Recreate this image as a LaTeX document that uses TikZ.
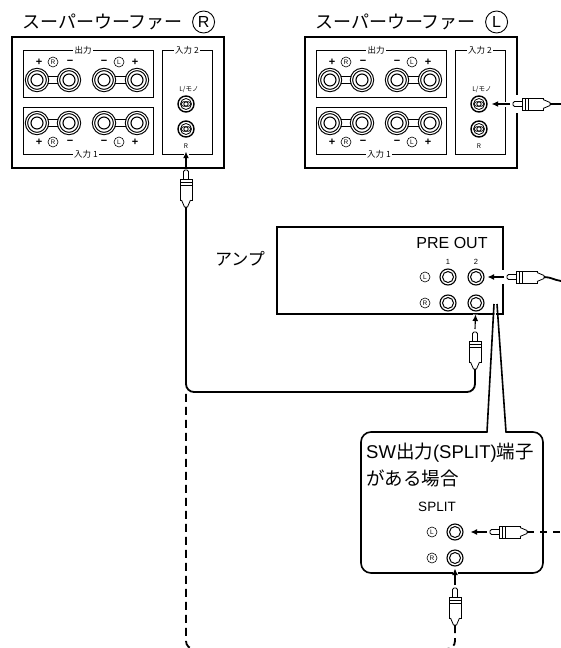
\documentclass[tikz,border=0pt]{standalone}
\usepackage{fontspec}
\setmainfont{Liberation Sans}
\newfontfamily\jp{Noto Sans CJK JP}
\usepackage{tikz}
\usetikzlibrary{positioning}
\usetikzlibrary{arrows.meta}
\usetikzlibrary{calc}
\tikzstyle{line} = [draw, -{Latex[length=6.5pt, width=6pt]}]

% RCA plug: name, tip position, angle
\newcommand\rcaplug[3]{%
  \begin{scope}[shift={#2}, rotate=#3]
    \draw[fill=white, line width=0.8pt, rounded corners=1.5pt] (9,-2.5) -- (0,-2.5) -- (0,2.5) -- (9,2.5);
    \draw[fill=white, line width=0.8pt] (9,-6) rectangle (30,6);
    \draw[line width=0.8pt] (12,-6) -- (12,6) (15,-6) -- (15,6);
    \draw[fill=white, line width=0.8pt] (30,-4.5) -- (37,-1.5) -- (37,1.5) -- (30,4.5);
    \coordinate (#1-tip) at (-3,0);
    \coordinate (#1-end) at (37,0);
  \end{scope}}

\begin{document}
\begin{tikzpicture}[x=1pt, y=-1pt,
    box/.style = {line width=1.3pt},
    panel/.style = {line width=0.9pt},
    cable/.style = {line width=1.8pt, rounded corners=8pt},
    lbl/.style = {fill=white, inner sep=1.5pt, font=\jp\fontsize{8.5}{9}\selectfont},
    tiny/.style = {inner sep=0pt, font=\jp\fontsize{6.5}{7}\selectfont},
    sgn/.style = {inner sep=0pt, font=\fontsize{11}{11}\selectfont\bfseries},
    cl/.style = {circle, draw, line width=0.6pt, inner sep=0pt,
      minimum size=10pt, font=\fontsize{6.5}{7}\selectfont},
    post/.style = {circle, draw, fill=white, double, double distance=1.1pt,
      line width=1.1pt, minimum size=21pt, inner sep=0pt,
      path picture={\draw[line width=1.1pt] (path picture bounding box.center) circle (6pt);}},
    rcain/.style = {circle, draw, fill=white, line width=1.4pt, minimum size=16pt, inner sep=0pt,
      path picture={
        \draw[line width=0.8pt] (path picture bounding box.center) circle (5.5pt);
        \draw[line width=0.8pt, rounded corners=2pt, shift={(path picture bounding box.center)}]
          (-4.5pt,-2.2pt) rectangle (4.5pt,2.2pt);
        \draw[line width=0.8pt] (path picture bounding box.center) circle (2.2pt);}},
    jack/.style = {circle, draw, fill=white, line width=1.1pt, minimum size=16pt, inner sep=0pt,
      path picture={\draw[line width=1pt] (path picture bounding box.center) circle (5.5pt);}},
    arr/.style = {line, line width=1.1pt, preaction={draw=white, line width=5pt, -}}]

  \useasboundingbox (0,0) rectangle (561,648);

  % Subwoofers
  \foreach \sx/\lt/\nm in {0/R/spR, 293/L/spL} {
    \begin{scope}[shift={(\sx,0)}]
      \node[anchor=west, inner sep=0pt, font=\jp\fontsize{18}{18}\selectfont] (\nm-title) at (22,22) {スーパーウーファー};
      \node[cl, minimum size=22pt, line width=0.9pt, font=\fontsize{16}{16}\selectfont,
        right=9pt of \nm-title] (\nm-mark) {\lt};
      \draw[box] (12,37) rectangle (224,168);
      \draw[panel] (23,50) rectangle (153,97);
      \draw[panel] (23,107) rectangle (153,154);
      \draw[panel] (162,50) rectangle (212,154);
      \node[lbl] (\nm-out) at (83,50) {出力};
      \node[lbl] (\nm-in1) at (86,154) {入力 1};
      \node[lbl] (\nm-in2) at (187,50) {入力 2};
      % speaker terminals
      \foreach \bx in {53,120.5}
        \foreach \by in {80,123}
          \draw[panel] (\bx-7,\by-3.5) rectangle (\bx+7,\by+3.5);
      \foreach \tx/\tn in {37/a, 69/b, 104/c, 137/d} {
        \node[post] (\nm-o\tn) at (\tx,80) {};
        \node[post] (\nm-i\tn) at (\tx,123) {};
      }
      \foreach \ly in {62,142} {
        \node[sgn] (\nm-p\ly) at (39,\ly) {+};
        \node[cl] (\nm-r\ly) at (53,\ly) {R};
        \node[sgn] (\nm-m\ly) at (70,\ly) {−};
        \node[sgn] (\nm-n\ly) at (104,\ly) {−};
        \node[cl] (\nm-l\ly) at (119,\ly) {L};
        \node[sgn] (\nm-q\ly) at (135,\ly) {+};
      }
      % input 2
      \node[tiny] (\nm-Ltxt) at (189,89) {L/モノ};
      \node[rcain] (\nm-L) at (186,104) {};
      \node[rcain] (\nm-R) at (186,129) {};
      \node[tiny] (\nm-Rtxt) at (186,146) {R};
    \end{scope}
  }

  % Amplifier
  \draw[box] (277,227) rectangle (503,314);
  \node[inner sep=0pt, font=\jp\fontsize{17}{17}\selectfont] (amp) at (240,259) {アンプ};
  \node[inner sep=0pt, font=\fontsize{16}{16}\selectfont] (preout) at (452,243) {PRE OUT};
  \node[inner sep=0pt, font=\fontsize{7.5}{8}\selectfont] (amp1) at (448,262) {1};
  \node[inner sep=0pt, font=\fontsize{7.5}{8}\selectfont] (amp2) at (476,262) {2};
  \node[jack] (ampL1) at (448,277) {};
  \node[jack] (ampL2) at (476,277) {};
  \node[jack] (ampR1) at (448,303) {};
  \node[jack] (ampR2) at (476,303) {};
  \node[cl] (ampLm) at (425,277) {L};
  \node[cl] (ampRm) at (425,303) {R};

  % gaps in the outlines
  \fill[white] (514,95) rectangle (520,113);
  \fill[white] (500,270) rectangle (506,284);

  % Callout
  \draw[line width=1.6pt, fill=white, rounded corners=10pt] (361,432) rectangle (543,573);
  \fill[white] (487.5,434) -- (495,304) -- (505.5,434) -- cycle;
  \draw[line width=1.6pt] (487,432) -- (494,304) (506,432) -- (497,304);
  \node[anchor=west, inner sep=0pt, font=\fontsize{18.5}{18.5}\selectfont] (sw) at (366,453) {SW{\jp 出力}(SPLIT){\jp 端子}};
  \node[anchor=west, inner sep=0pt, font=\jp\fontsize{18.5}{18.5}\selectfont] (case) at (366,478) {がある場合};
  \node[inner sep=0pt, font=\fontsize{13.5}{13.5}\selectfont] (split) at (437,507) {SPLIT};
  \node[jack] (spltL) at (455,532) {};
  \node[jack] (spltR) at (455,558) {};
  \node[cl] (spltLm) at (432,532) {L};
  \node[cl] (spltRm) at (432,558) {R};

  % Plugs
  \rcaplug{plugA}{(186,170)}{-90}
  \rcaplug{plugB}{(513,104)}{0}
  \rcaplug{plugC}{(475,332)}{-90}
  \rcaplug{plugD}{(507,277)}{0}
  \rcaplug{plugE}{(490,532)}{0}
  \rcaplug{plugF}{(455,588)}{-90}

  % Arrows
  \draw[arr, shorten >=14pt] (plugA-tip) -- (spR-R);
  \draw[arr, shorten >=4pt] (plugB-tip) -- (spL-L);
  \draw[arr, shorten >=3pt] (plugC-tip) -- (ampR2);
  \draw[arr, shorten >=3pt] (plugD-tip) -- (ampL2);
  \draw[arr, shorten >=7pt] (plugE-tip) -- (spltL);
  \draw[arr, shorten >=2pt] (plugF-tip) -- (spltR);

  % Cables
  \coordinate (cornerR) at (186,392);
  \coordinate (cornerB) at (186,649);
  \coordinate (outB) at (561,104);
  \coordinate (outD) at (561,281);
  \coordinate (outE) at (561,532);
  \draw[cable] (plugA-end) -- (cornerR) -| (plugC-end);
  \draw[cable, dash pattern=on 8pt off 5pt] (plugF-end) |- (cornerB) -- (cornerR);
  \draw[cable] (plugB-end) -- (outB);
  \draw[cable] (plugD-end) to[out=0, in=172] (outD);
  \draw[cable, dash pattern=on 7pt off 6pt] (plugE-end) -- (outE);
\end{tikzpicture}
\end{document}
